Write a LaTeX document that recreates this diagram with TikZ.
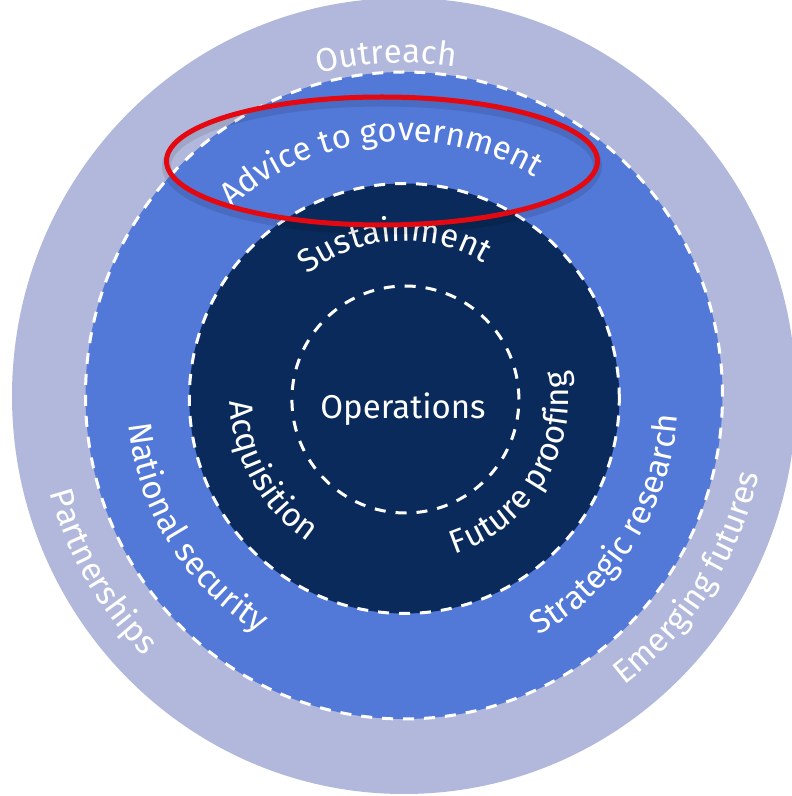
\documentclass[tikz,border=0pt]{standalone}
\usepackage{fontspec}
\setmainfont{Fira Sans}
\usetikzlibrary{decorations.text}
\definecolor{outerband}{RGB}{177,184,220}
\definecolor{midband}{RGB}{82,120,216}
\definecolor{coreband}{RGB}{9,42,90}
\definecolor{markred}{RGB}{228,8,16}
\newcommand{\lblfont}{\fontsize{33}{40}\selectfont}
\begin{document}
\begin{tikzpicture}[x=1pt,y=1pt,
  ringdash/.style={draw=white, line width=3pt, dash pattern=on 11pt off 10pt},
  arclabel/.style={decorate, decoration={text along path, text align=center, text color=white, text={|\lblfont|#1}}}]
\useasboundingbox (0,0) rectangle (792,796);
\clip (0,0) rectangle (792,796);
\coordinate (C) at (404,399);
\coordinate (Cb) at (404,400.5);
\coordinate (Cn) at (404.3,397.5);
\coordinate (Co) at (405.4,396.5);
% rings
\fill[outerband] (404,400) ellipse[x radius=392, y radius=398];
\filldraw[fill=midband, ringdash] (Cb) ellipse[x radius=318.5, y radius=323.5];
\filldraw[fill=coreband, ringdash] (Cn) circle[radius=215];
\draw[ringdash] (Co) circle[radius=113.5];
% centre label
\node[text=white, font=\lblfont, anchor=base] (ops) at (403,377) {Operations};
% arc labels, top (clockwise)
\path[arclabel={Outreach}] ([shift={(118:334)}]C) arc[start angle=118, end angle=68, radius=334];
\path[arclabel={Advice to government}] ([shift={(145.8:256)}]C) arc[start angle=145.8, end angle=45.8, radius=256];
\path[arclabel={Sustainment}] ([shift={(143.7:156)}]C) arc[start angle=143.7, end angle=43.7, radius=156];
% left side (counter-clockwise)
\path[arclabel={Acquisition}] ([shift={(164:174)}]C) arc[start angle=164, end angle=254, radius=174];
\path[arclabel={National security}] ([shift={(167:277)}]C) arc[start angle=167, end angle=257, radius=277];
\path[arclabel={Partnerships}] ([shift={(175:367)}]C) arc[start angle=175, end angle=245, radius=367];
% right side (counter-clockwise)
\path[arclabel={Future proofing}] ([shift={(-86.5:165)}]C) arc[start angle=-86.5, end angle=23.5, radius=165];
\path[arclabel={Strategic research}] ([shift={(-77.2:274)}]C) arc[start angle=-77.2, end angle=12.8, radius=274];
\path[arclabel={Emerging futures}] ([shift={(-67.5:363)}]C) arc[start angle=-67.5, end angle=2.5, radius=363];
% red highlight
\draw[black, opacity=0.10, line width=9pt] (382,630) ellipse[x radius=215.5, y radius=64];
\draw[markred, line width=5pt] (382,635) ellipse[x radius=215.5, y radius=64];
\end{tikzpicture}
\end{document}
